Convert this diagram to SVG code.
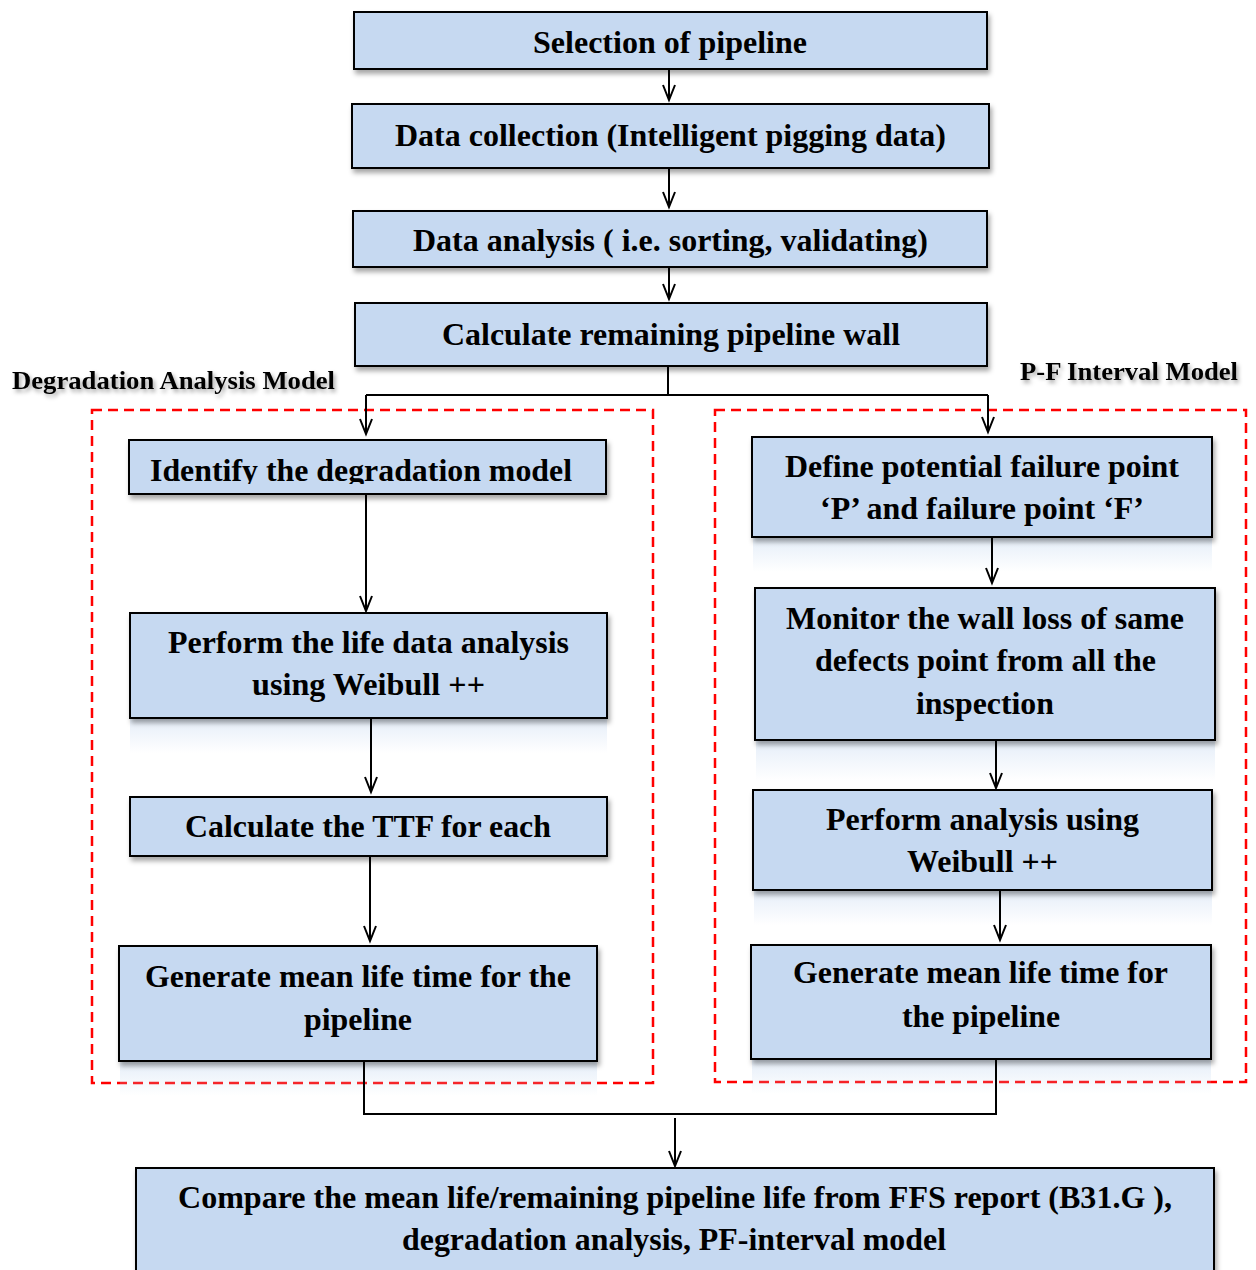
<svg xmlns="http://www.w3.org/2000/svg" width="1256" height="1270" viewBox="0 0 1256 1270">
<style>
.box{fill:#C6D9F1;stroke:#000;stroke-width:2;filter:url(#sh)}
.refl{fill:url(#rg)}
.t{font-family:"Liberation Serif","Times New Roman",serif;font-weight:bold;font-size:32px;fill:#000;text-anchor:middle}
.lbl{font-family:"Liberation Serif","Times New Roman",serif;font-weight:bold;font-size:26px;fill:#000;filter:url(#tsh)}
.c{fill:none;stroke:#000;stroke-width:2}
.a{marker-end:url(#ah)}
.dash{fill:none;stroke:#FF0000;stroke-width:2.5;stroke-dasharray:10 6}
</style>
<defs>
<filter id="sh" x="-5%" y="-10%" width="112%" height="130%">
<feDropShadow dx="2" dy="4" stdDeviation="2.5" flood-color="#000" flood-opacity="0.35"/>
</filter>
<filter id="tsh" x="-5%" y="-30%" width="110%" height="180%">
<feDropShadow dx="2" dy="3" stdDeviation="2" flood-color="#000" flood-opacity="0.35"/>
</filter>
<linearGradient id="rg" x1="0" y1="0" x2="0" y2="1">
<stop offset="0" stop-color="#C6D9F1" stop-opacity="0.45"/>
<stop offset="1" stop-color="#C6D9F1" stop-opacity="0"/>
</linearGradient>
<marker id="ah" markerUnits="userSpaceOnUse" markerWidth="20" markerHeight="16" viewBox="-17 -8 20 16" refX="0" refY="0" orient="auto">
<path d="M-15,-6 L0,0 L-15,6" fill="none" stroke="#000" stroke-width="2"/>
</marker>
<clipPath id="clipL1"><rect x="129" y="440" width="478" height="44"/></clipPath>
</defs>
<rect width="1256" height="1270" fill="#fff"/>

<g id="groups">
<rect class="dash" x="92" y="410" width="561" height="673"/>
<rect class="dash" x="715" y="410" width="531" height="672"/>
<text class="lbl" x="12" y="389" textLength="323" lengthAdjust="spacingAndGlyphs">Degradation Analysis Model</text>
<text class="lbl" x="1020" y="380" textLength="218" lengthAdjust="spacingAndGlyphs">P-F Interval Model</text>
</g>

<g id="reflections">
<rect class="refl" x="130" y="719" width="477" height="34"/>
<rect class="refl" x="753" y="538" width="459" height="34"/>
<rect class="refl" x="756" y="741" width="459" height="40"/>
<rect class="refl" x="754" y="891" width="458" height="34"/>
<rect class="refl" x="120" y="1062" width="477" height="34"/>
<rect class="refl" x="752" y="1060" width="459" height="34"/>
</g>

<g id="connectors">
<line class="c a" x1="669" y1="69" x2="669" y2="100"/>
<line class="c a" x1="669" y1="168" x2="669" y2="207"/>
<line class="c a" x1="669" y1="267" x2="669" y2="299"/>
<polyline class="c" points="668,366 668,395"/>
<line class="c" x1="366" y1="395" x2="988" y2="395"/>
<line class="c a" x1="366" y1="395" x2="366" y2="434"/>
<line class="c a" x1="988" y1="395" x2="988" y2="432"/>
<line class="c a" x1="366" y1="494" x2="366" y2="611"/>
<line class="c a" x1="371" y1="718" x2="371" y2="792"/>
<line class="c a" x1="370" y1="856" x2="370" y2="941"/>
<line class="c a" x1="992" y1="537" x2="992" y2="583"/>
<line class="c a" x1="996" y1="740" x2="996" y2="788"/>
<line class="c a" x1="1000" y1="890" x2="1000" y2="940"/>
<polyline class="c" points="364,1061 364,1114 996,1114 996,1059"/>
<line class="c a" x1="675" y1="1118" x2="675" y2="1166"/>
</g>

<g id="n1"><rect class="box" x="354" y="12" width="633" height="57"/>
<text class="t" x="670" y="53" textLength="274" lengthAdjust="spacingAndGlyphs">Selection of pipeline</text></g>
<g id="n2"><rect class="box" x="352" y="104" width="637" height="64"/>
<text class="t" x="670.5" y="146" textLength="551" lengthAdjust="spacingAndGlyphs">Data collection (Intelligent pigging data)</text></g>
<g id="n3"><rect class="box" x="353" y="211" width="634" height="56"/>
<text class="t" x="670.5" y="251" textLength="515" lengthAdjust="spacingAndGlyphs">Data analysis ( i.e. sorting, validating)</text></g>
<g id="n4"><rect class="box" x="355" y="303" width="632" height="63"/>
<text class="t" x="671" y="345" textLength="458" lengthAdjust="spacingAndGlyphs">Calculate remaining pipeline wall</text></g>

<g id="l1"><rect class="box" x="129" y="440" width="477" height="54"/>
<text class="t" x="361" y="481" textLength="422" lengthAdjust="spacingAndGlyphs" clip-path="url(#clipL1)">Identify the degradation model</text></g>
<g id="l2"><rect class="box" x="130" y="613" width="477" height="105"/>
<text class="t" x="368.5" y="653" textLength="401" lengthAdjust="spacingAndGlyphs">Perform the life data analysis</text>
<text class="t" x="368.5" y="695" textLength="233" lengthAdjust="spacingAndGlyphs">using Weibull ++</text></g>
<g id="l3"><rect class="box" x="130" y="797" width="477" height="59"/>
<text class="t" x="368" y="837" textLength="366" lengthAdjust="spacingAndGlyphs">Calculate the TTF for each</text></g>
<g id="l4"><rect class="box" x="119" y="946" width="478" height="115"/>
<text class="t" x="358" y="987" textLength="426" lengthAdjust="spacingAndGlyphs">Generate mean life time for the</text>
<text class="t" x="358" y="1030" textLength="108" lengthAdjust="spacingAndGlyphs">pipeline</text></g>

<g id="r1"><rect class="box" x="752" y="437" width="460" height="100"/>
<text class="t" x="982" y="477" textLength="394" lengthAdjust="spacingAndGlyphs">Define potential failure point</text>
<text class="t" x="982" y="519" textLength="324" lengthAdjust="spacingAndGlyphs">‘P’ and failure point ‘F’</text></g>
<g id="r2"><rect class="box" x="755" y="588" width="460" height="152"/>
<text class="t" x="985" y="629" textLength="398" lengthAdjust="spacingAndGlyphs">Monitor the wall loss of same</text>
<text class="t" x="985.5" y="671" textLength="341" lengthAdjust="spacingAndGlyphs">defects point from all the</text>
<text class="t" x="985" y="714" textLength="138" lengthAdjust="spacingAndGlyphs">inspection</text></g>
<g id="r3"><rect class="box" x="753" y="790" width="459" height="100"/>
<text class="t" x="982.5" y="830" textLength="313" lengthAdjust="spacingAndGlyphs">Perform analysis using</text>
<text class="t" x="982.5" y="872" textLength="151" lengthAdjust="spacingAndGlyphs">Weibull ++</text></g>
<g id="r4"><rect class="box" x="751" y="945" width="460" height="114"/>
<text class="t" x="980.5" y="983" textLength="375" lengthAdjust="spacingAndGlyphs">Generate mean life time for</text>
<text class="t" x="981" y="1027" textLength="158" lengthAdjust="spacingAndGlyphs">the pipeline</text></g>

<g id="final"><rect class="box" x="136" y="1168" width="1078" height="110"/>
<text class="t" x="675" y="1208" textLength="994" lengthAdjust="spacingAndGlyphs">Compare the mean life/remaining pipeline life from FFS report (B31.G ),</text>
<text class="t" x="674" y="1250" textLength="544" lengthAdjust="spacingAndGlyphs">degradation analysis, PF-interval model</text></g>
</svg>
